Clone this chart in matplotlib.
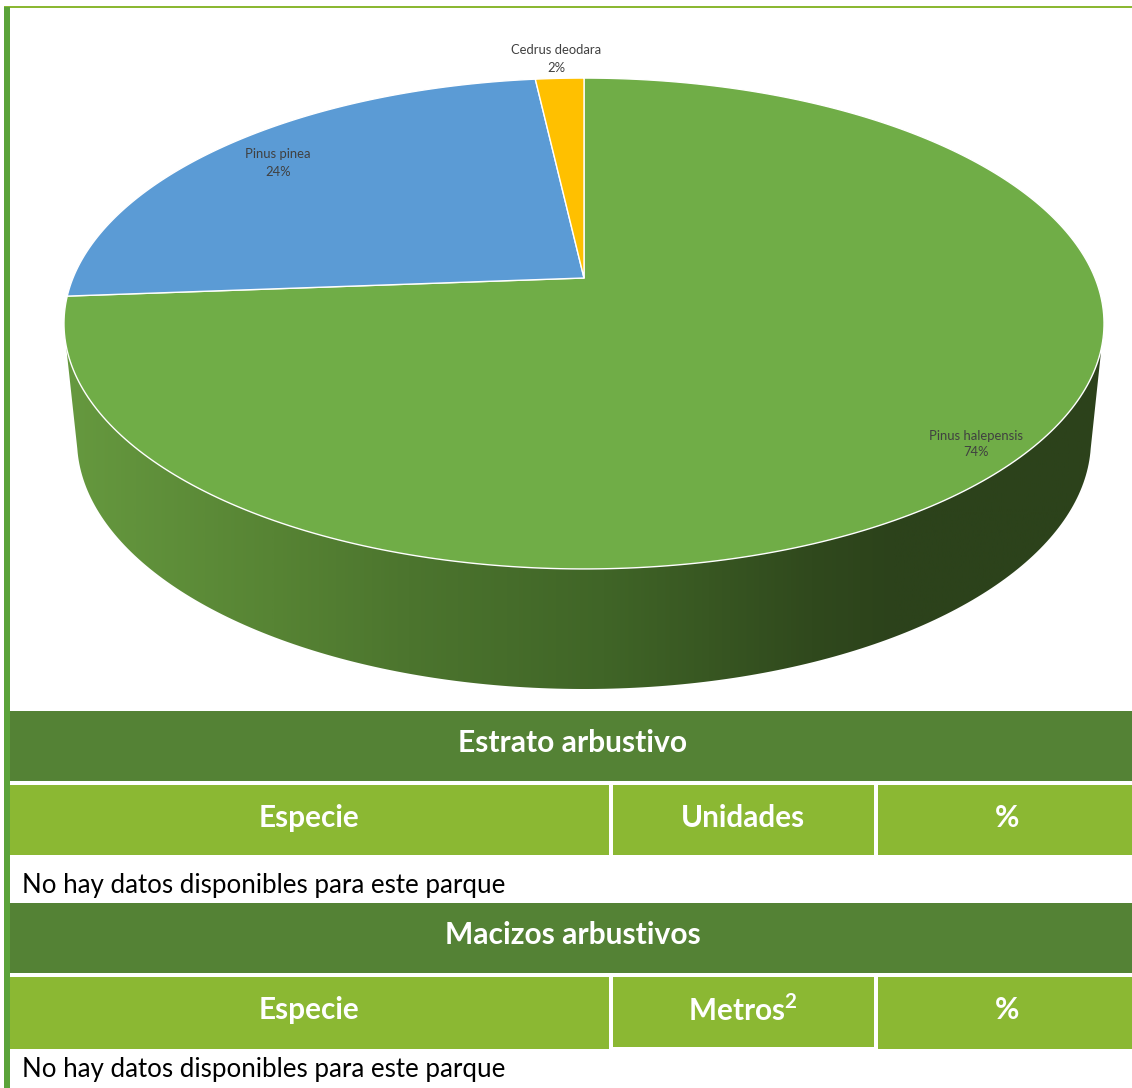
"""Pie chart of tree species with the two shrub tables below it."""

import numpy as np
import matplotlib
matplotlib.use("Agg")
import matplotlib.pyplot as plt
from matplotlib.colors import LinearSegmentedColormap
from matplotlib.patches import Polygon, Rectangle

# Pie data (clockwise from 12 o'clock)
species = ["Pinus halepensis", "Pinus pinea", "Cedrus deodara"]
shares = [73.8, 24.4, 1.8]
slice_colors = ["#70AD47", "#5B9BD5", "#FFC000"]
label_xy = [(976, 444), (278, 163), (556, 59)]

# Tables
table_titles = ["Estrato arbustivo", "Macizos arbustivos"]
table_columns = [["Especie", "Unidades", "%"], ["Especie", r"Metros$^{\mathbf{2}}$", "%"]]
empty_note = "No hay datos disponibles para este parque"

DARK = "#548235"
LIGHT = "#8BB833"
BAR = "#5BA33A"
FONT = "Lato"

plt.rcParams["mathtext.fontset"] = "custom"
plt.rcParams["mathtext.bf"] = "Lato:bold"


def project(theta):
    """Map angles on the pie disc to picture pixels (perspective view)."""
    cx, cy = 584, 278
    a, b, k = 511, 237, 0.1854
    u, v = np.sin(theta), np.cos(theta)
    w = 1 + k * v
    return cx + a * u / w, cy - b * v / w


def draw_wall(ax):
    # lower rim of the pie, seen as a plain ellipse
    t = np.linspace(np.radians(2), np.radians(178), 200)
    x = 584 - 507 * np.cos(t)
    y = 440 + 249 * np.sin(t)
    pts = np.column_stack([x, y])
    pts = np.vstack([[66, 345], pts, [1101, 352]])
    poly = Polygon(pts, closed=True, facecolor="none", edgecolor="none")
    ax.add_patch(poly)
    cmap = LinearSegmentedColormap.from_list(
        "wall",
        [(0.0, "#66993F"), (0.2, "#578434"), (0.33, "#4C752E"), (0.52, "#406527"),
         (0.72, "#30491D"), (0.80, "#2C421B"), (1.0, "#2C421B")],
    )
    grad = np.linspace(0, 1, 512).reshape(1, -1)
    im = ax.imshow(grad, cmap=cmap, extent=(64, 1104, 700, 320), aspect="auto", zorder=1)
    im.set_clip_path(poly)


def draw_pie(ax):
    start = 0.0
    total = sum(shares)
    for name, share, color, (lx, ly) in zip(species, shares, slice_colors, label_xy):
        sweep = share / total * 2 * np.pi
        t = np.linspace(start, start + sweep, 300)
        x, y = project(t)
        cx, cy = project(np.array([0.0]))[0][0], 278
        pts = np.column_stack([np.r_[cx, x], np.r_[cy, y]])
        ax.add_patch(Polygon(pts, closed=True, facecolor=color, edgecolor="white",
                             linewidth=1.0, zorder=2, joinstyle="round"))
        ax.text(lx, ly, f"{name}\n{share:.0f}%", ha="center", va="center", fontsize=9.4,
                color="#404040", family=FONT, linespacing=1.5, zorder=3)
        start += sweep


def draw_table(ax, title, columns, top, note_y, bottoms):
    ax.add_patch(Rectangle((10, top), 1122, 70, facecolor=DARK, edgecolor="none"))
    ax.text(573, top + 32, title, ha="center", va="center", color="white",
            fontsize=21.6, fontweight="bold", family=FONT)
    lefts = [10, 613, 878]
    rights = [609, 874, 1132]
    text_x = [309, 743, 1007]
    head_top = top + 74
    for col, x0, x1, tx, bottom in zip(columns, lefts, rights, text_x, bottoms):
        ax.add_patch(Rectangle((x0, head_top), x1 - x0, bottom - head_top,
                               facecolor=LIGHT, edgecolor="none"))
        ax.text(tx, head_top + 33, col, ha="center", va="center",
                color="white", fontsize=21.4, fontweight="bold", family=FONT)
    ax.text(22, note_y, empty_note, ha="left", va="center", color="black",
            fontsize=18.6, family=FONT)


def main() -> None:
    fig = plt.figure(figsize=(11.32, 10.88), dpi=100)
    ax = fig.add_axes([0, 0, 1, 1])

    # page frame
    ax.add_patch(Rectangle((4, 6), 1128, 2, facecolor=LIGHT, edgecolor="none"))
    ax.add_patch(Rectangle((4, 7), 6, 1081, facecolor=BAR, edgecolor="none"))

    draw_wall(ax)
    draw_pie(ax)

    draw_table(ax, table_titles[0], table_columns[0], 711, 885, [855, 855, 855])
    draw_table(ax, table_titles[1], table_columns[1], 903, 1069, [1049, 1047, 1049])

    ax.set_xlim(0, 1132)
    ax.set_ylim(1088, 0)
    ax.axis("off")
    fig.savefig("out.png", dpi=100)


if __name__ == "__main__":
    main()
